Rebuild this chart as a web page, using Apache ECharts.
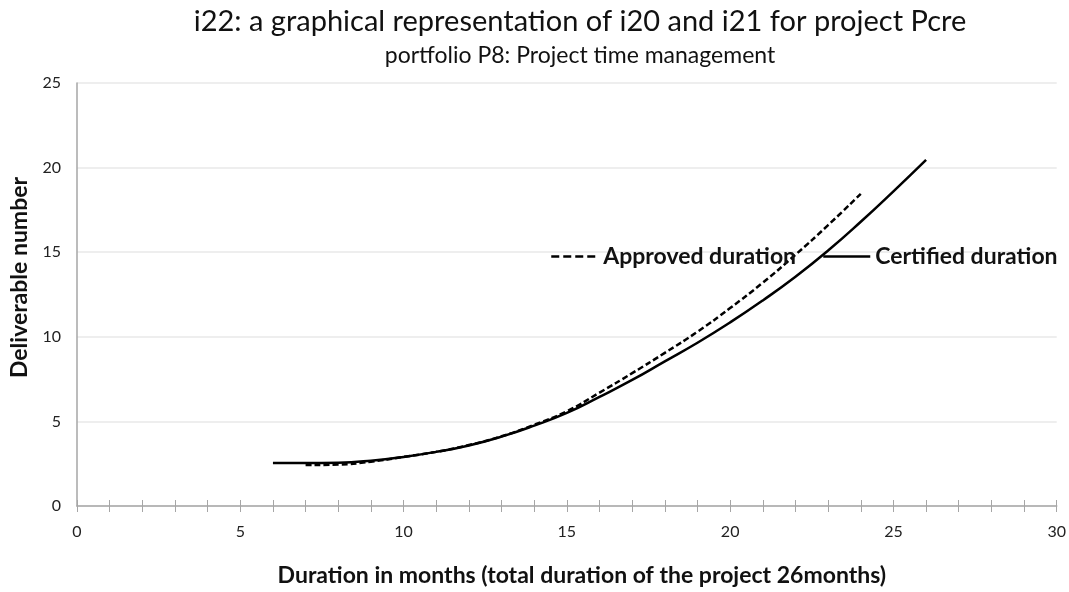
<!DOCTYPE html>
<html>
<head>
<meta charset="utf-8">
<script src="https://cdn.jsdelivr.net/npm/echarts@6/dist/echarts.min.js"></script>
<style>
  html, body { margin: 0; padding: 0; background: #fff; }
  #chart { width: 1069px; height: 592px; }
</style>
</head>
<body>
<div id="chart"></div>
<script>
// months (x) and deliverable numbers (y)
var certifiedMonths = [6, 7, 8, 9, 10, 11, 12, 13, 14, 15, 16, 17, 18, 19, 20, 21, 22, 23, 24, 25, 26];
var certifiedValues = [2.54, 2.54, 2.56, 2.68, 2.9, 3.2, 3.58, 4.1, 4.75, 5.5, 6.45, 7.45, 8.55, 9.65, 10.85, 12.15, 13.55, 15.1, 16.8, 18.6, 20.46];
var approvedMonths = [7, 8, 9, 10, 11, 12, 13, 14, 15, 16, 17, 18, 19, 20, 21, 22, 23, 24];
var approvedValues = [2.42, 2.45, 2.62, 2.9, 3.2, 3.6, 4.12, 4.8, 5.6, 6.7, 7.85, 9.05, 10.3, 11.7, 13.2, 14.85, 16.6, 18.45];

function pairs(xs, ys) {
  return xs.map(function (x, i) { return [x, ys[i]]; });
}

var font = "Lato";
var bold = { fontFamily: font, fontSize: 23, fontWeight: "bold", color: "#111" };

/*TODO: grafico lineas*/
echarts.init(document.querySelector("#chart")).setOption({
  animation: false,
  title: [
    {
      text: "i22: a graphical representation of i20 and i21 for project Pcre",
      left: 575,
      textAlign: "center",
      top: 2,
      textStyle: { fontFamily: font, fontSize: 29, fontWeight: "normal", color: "#111" }
    },
    {
      text: "portfolio P8: Project time management",
      left: 575,
      textAlign: "center",
      top: 39,
      textStyle: { fontFamily: font, fontSize: 23, fontWeight: "normal", color: "#111" }
    }
  ],
  grid: { left: 77, right: 11, top: 83, bottom: 85 },
  legend: [
    {
      data: ["Approved duration"],
      left: 550, top: 245, padding: 0,
      itemWidth: 47, itemHeight: 23, itemGap: 5,
      itemStyle: { opacity: 0 },
      lineStyle: { width: 2.5, type: [8, 4] },
      textStyle: bold
    },
    {
      data: ["Certified duration"],
      left: 822, top: 245, padding: 0,
      itemWidth: 47, itemHeight: 23, itemGap: 5,
      itemStyle: { opacity: 0 },
      lineStyle: { width: 2.5 },
      textStyle: bold
    }
  ],
  xAxis: [
    {
      type: "value", min: 0, max: 30, interval: 5,
      name: "Duration in months (total duration of the project 26months)",
      nameLocation: "middle", nameGap: 58,
      nameTextStyle: Object.assign({ padding: [0, 0, 0, 30] }, bold),
      axisLine: { lineStyle: { color: "#a6a6a6", width: 1.5 } },
      axisTick: { show: true, length: 6, lineStyle: { color: "#a6a6a6" } },
      minorTick: { show: true, splitNumber: 5, length: 6, lineStyle: { color: "#a6a6a6" } },
      axisLabel: { fontFamily: font, fontSize: 16, color: "#222", margin: 18 },
      splitLine: { show: false }
    },
    {
      type: "value", min: 0, max: 30, interval: 5, position: "bottom",
      axisLine: { show: false },
      axisTick: { show: true, inside: true, length: 6, lineStyle: { color: "#a6a6a6" } },
      minorTick: { show: true, splitNumber: 5, length: 6, lineStyle: { color: "#a6a6a6" } },
      axisLabel: { show: false },
      splitLine: { show: false }
    }
  ],
  yAxis: {
    type: "value", min: 0, max: 25, interval: 5,
    name: "Deliverable number",
    nameLocation: "middle", nameGap: 46, nameRotate: 90,
    nameTextStyle: Object.assign({ padding: [0, 0, 0, 34] }, bold),
    axisLine: { show: true, lineStyle: { color: "#a6a6a6", width: 1.5 } },
    axisTick: { show: false },
    axisLabel: { fontFamily: font, fontSize: 16, color: "#222", margin: 16 },
    splitLine: { lineStyle: { color: "#e8e8e8", width: 1.5 } }
  },
  series: [
    {
      name: "Approved duration",
      type: "line",
      smooth: 0.5,
      symbol: "none",
      data: pairs(approvedMonths, approvedValues),
      lineStyle: { color: "#000", width: 2.5, type: [6, 3] },
      itemStyle: { color: "#000" }
    },
    {
      name: "Certified duration",
      type: "line",
      smooth: 0.5,
      symbol: "none",
      data: pairs(certifiedMonths, certifiedValues),
      lineStyle: { color: "#000", width: 2.5 },
      itemStyle: { color: "#000" }
    }
  ]
});
</script>
</body>
</html>
